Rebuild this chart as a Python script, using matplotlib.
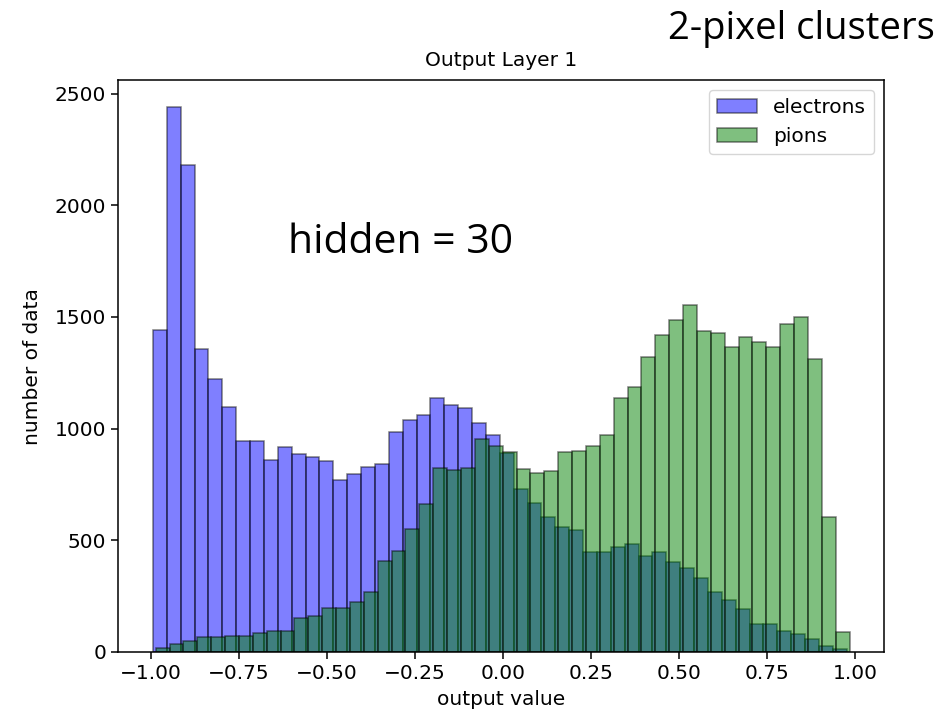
import numpy as np
import matplotlib.pyplot as plt

# counts per bin for the network output, 50 bins each
electrons = [1441, 2438, 2179, 1358, 1224, 1095, 943, 943, 860, 916,
             888, 872, 857, 768, 795, 826, 841, 985, 1038, 1060,
             1138, 1106, 1092, 1023, 973, 890, 728, 665, 606, 560,
             545, 446, 446, 468, 483, 431, 446, 401, 377, 331,
             270, 233, 193, 126, 126, 95, 82, 58, 28, 13]
pions = [19, 34, 48, 65, 65, 71, 71, 86, 95, 95,
         154, 163, 199, 199, 226, 270, 407, 451, 550, 664,
         823, 815, 823, 953, 924, 894, 817, 802, 811, 894,
         901, 922, 970, 1138, 1188, 1319, 1417, 1485, 1554, 1439,
         1426, 1365, 1411, 1386, 1365, 1470, 1500, 1310, 605, 88]

# output range seen in each sample
e_min, e_max = -0.995, 0.976
p_min, p_max = -0.987, 0.984

e_edges = np.linspace(e_min, e_max, len(electrons) + 1)
p_edges = np.linspace(p_min, p_max, len(pions) + 1)

plt.rcParams['font.size'] = 14.5
plt.rcParams['axes.linewidth'] = 1.1
plt.rcParams['xtick.major.width'] = 1.1
plt.rcParams['ytick.major.width'] = 1.1
plt.rcParams['xtick.major.size'] = 5
plt.rcParams['ytick.major.size'] = 5

fig = plt.figure(figsize=(9.52, 7.16), dpi=100)
ax = fig.add_axes([0.124, 0.0894, 0.805, 0.7986])

ax.hist(e_edges[:-1], bins=e_edges, weights=electrons, color='blue',
        alpha=0.5, edgecolor='black', linewidth=1.1, label='electrons')
ax.hist(p_edges[:-1], bins=p_edges, weights=pions, color='green',
        alpha=0.5, edgecolor='black', linewidth=1.1, label='pions')

ax.set_xticks([-1.0, -0.75, -0.5, -0.25, 0.0, 0.25, 0.5, 0.75, 1.0])
ax.set_xticklabels(['\u22121.00', '\u22120.75', '\u22120.50', '\u22120.25',
                    '0.00', '0.25', '0.50', '0.75', '1.00'])
ax.set_yticks([0, 500, 1000, 1500, 2000, 2500])

ax.set_title('Output Layer 1', fontsize=14.5, pad=10)
ax.set_xlabel('output value', fontsize=14.5, labelpad=5)
ax.set_ylabel('number of data', fontsize=14.5, labelpad=9)
ax.legend(loc='upper right', fontsize=14.5)

fig.text(0.302, 0.647, 'hidden = 30', fontsize=29.5, family='Open Sans',
         va='baseline')
fig.text(0.982, 0.945, '2-pixel clusters', fontsize=27.5, family='Open Sans',
         ha='right', va='baseline')

fig.savefig('out.png', dpi=100)
